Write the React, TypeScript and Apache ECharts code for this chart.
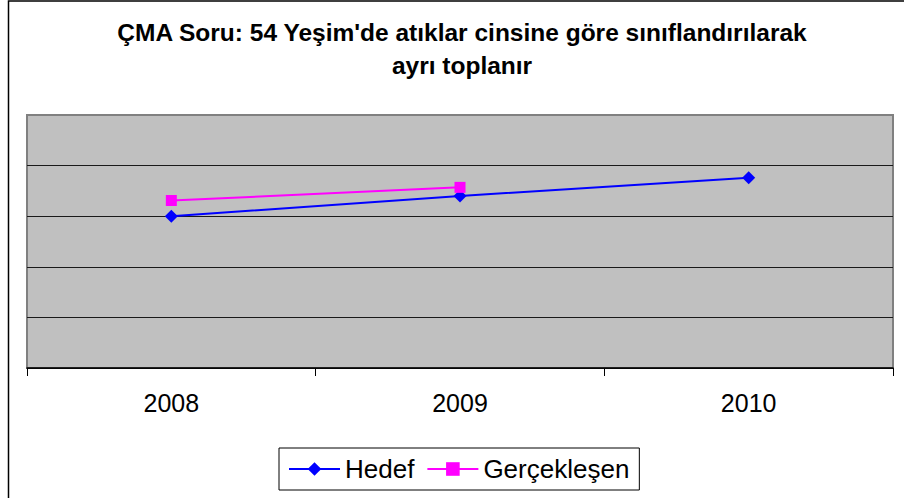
import React, { useEffect, useRef } from "react";
import * as echarts from "echarts";

const categories = ["2008", "2009", "2010"];
const hedef = [60, 68, 75.2];
const gerceklesen = [66.2, 71.4];
const titleLines = ["ÇMA Soru: 54 Yeşim'de atıklar cinsine göre sınıflandırılarak", "ayrı toplanır"];

const FONT = "'Liberation Sans', Arial, sans-serif";

export default function App() {
  const ref = useRef<HTMLDivElement>(null);
  useEffect(() => {
    if (!ref.current) return;
    const chart = echarts.init(ref.current, null, { renderer: "svg" });
    chart.setOption({
      animation: false,
      backgroundColor: "#ffffff",
      textStyle: { fontFamily: FONT },
      graphic: [
        {
          type: "rect",
          shape: { x: 8.5, y: 1, width: 1200, height: 1200 },
          style: { fill: "none", stroke: "#000", lineWidth: 1.5 },
          silent: true,
        },
        {
          type: "text",
          x: 462,
          y: 32,
          style: {
            text: titleLines[0],
            font: `bold 24.5px ${FONT}`,
            fill: "#000",
            align: "center",
            verticalAlign: "middle",
          },
        },
        {
          type: "text",
          x: 462,
          y: 65,
          style: {
            text: titleLines[1],
            font: `bold 24.5px ${FONT}`,
            fill: "#000",
            align: "center",
            verticalAlign: "middle",
          },
        },
      ],
      grid: {
        left: 27,
        right: 11,
        top: 115,
        bottom: 130,
        show: true,
        backgroundColor: "#c0c0c0",
        borderColor: "#808080",
        borderWidth: 2,
      },
      legend: {
        left: 279,
        top: 448,
        padding: [8, 10, 8, 9],
        borderColor: "#000",
        borderWidth: 1,
        itemGap: 12,
        itemWidth: 51,
        itemHeight: 17,
        textStyle: { fontSize: 26, fontFamily: FONT, color: "#000" },
        data: ["Hedef", "Gerçekleşen"],
      },
      xAxis: {
        type: "category",
        data: categories,
        boundaryGap: true,
        axisLine: { show: true, lineStyle: { color: "#000", width: 1.5 } },
        axisTick: { show: true, length: 8, lineStyle: { color: "#000" } },
        axisLabel: { fontSize: 25, color: "#000", margin: 22, fontFamily: FONT },
        splitLine: { show: false },
      },
      yAxis: {
        type: "value",
        min: 0,
        max: 100,
        interval: 20,
        axisLabel: { show: false },
        axisLine: { show: false },
        axisTick: { show: false },
        splitLine: {
          show: true,
          showMaxLine: false,
          lineStyle: { color: "#1a1a1a", width: 1 },
        },
      },
      series: [
        {
          name: "Hedef",
          type: "line",
          data: hedef,
          symbol: "diamond",
          symbolSize: 13,
          lineStyle: { color: "#0000ff", width: 2 },
          itemStyle: { color: "#0000ff" },
        },
        {
          name: "Gerçekleşen",
          type: "line",
          data: gerceklesen,
          symbol: "rect",
          symbolSize: 11,
          lineStyle: { color: "#ff00ff", width: 2 },
          itemStyle: { color: "#ff00ff" },
        },
      ],
    });
    return () => chart.dispose();
  }, []);
  return (
    <div
      ref={ref}
      style={{ position: "absolute", left: 0, top: 0, width: 904, height: 498, background: "#fff" }}
    />
  );
}
